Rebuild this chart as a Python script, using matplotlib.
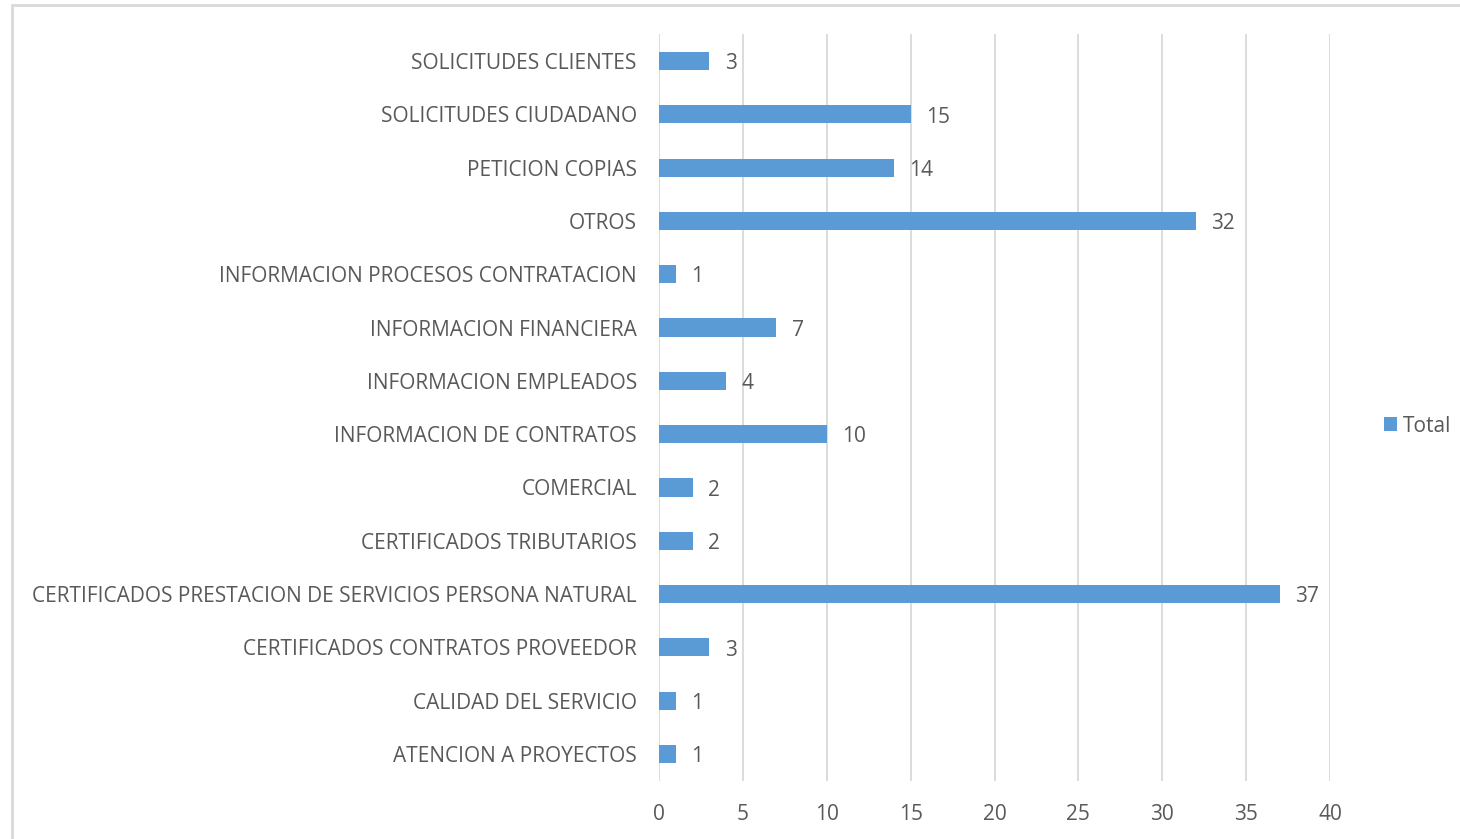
import matplotlib.pyplot as plt
from matplotlib.patches import Rectangle

categories = [
    "ATENCION A PROYECTOS",
    "CALIDAD DEL SERVICIO",
    "CERTIFICADOS CONTRATOS PROVEEDOR",
    "CERTIFICADOS PRESTACION DE SERVICIOS PERSONA NATURAL",
    "CERTIFICADOS TRIBUTARIOS",
    "COMERCIAL",
    "INFORMACION DE CONTRATOS",
    "INFORMACION EMPLEADOS",
    "INFORMACION FINANCIERA",
    "INFORMACION PROCESOS CONTRATACION",
    "OTROS",
    "PETICION COPIAS",
    "SOLICITUDES CIUDADANO",
    "SOLICITUDES CLIENTES",
]
values = [1, 1, 3, 37, 2, 2, 10, 4, 7, 1, 32, 14, 15, 3]
xticks = [0, 5, 10, 15, 20, 25, 30, 35, 40]

bar_color = "#5B9BD5"
text_color = "#595959"
plt.rcParams['font.family'] = ['Open Sans', 'DejaVu Sans']
fs = 15

fig = plt.figure(figsize=(14.6, 8.39), dpi=100)
ax = fig.add_axes([659 / 1460, 1 - 780.7 / 839, (1330 - 659) / 1460, (780.7 - 34.3) / 839])

# chart border (cropped at right/bottom in the original)
fig.patches.append(Rectangle((12 / 1460, -0.1), 1.2, 1 - 5 / 839 + 0.1,
                             transform=fig.transFigure, fill=False,
                             edgecolor="#D9D9D9", linewidth=2))

pos = list(range(len(categories)))
bars = ax.barh(pos, values, height=0.34, color=bar_color, label="Total", zorder=3)

for p, v in zip(pos, values):
    ax.annotate(str(v), (v, p), xytext=(11, -2), textcoords="offset points",
                ha="left", va="center", fontsize=fs, color=text_color)

ax.set_xlim(0, 40)
ax.set_ylim(-0.5, len(categories) - 0.5)
ax.set_xticks(xticks)
ax.set_yticks(pos)
ax.set_yticklabels(categories)
ax.tick_params(axis="both", length=0, labelsize=fs, labelcolor=text_color)
ax.tick_params(axis="y", pad=16)
ax.tick_params(axis="x", pad=17)
ax.grid(axis="x", color="#D9D9D9", linewidth=1.3, zorder=0)
for s in ax.spines.values():
    s.set_visible(False)

fig.legend(handles=[bars], labels=["Total"], loc="center left",
           bbox_to_anchor=(1365 / 1460, 1 - 426 / 839), frameon=False,
           fontsize=fs, labelcolor=text_color, handlelength=0.65, handleheight=0.65,
           handletextpad=0.25)

plt.savefig("out.png", dpi=100)
